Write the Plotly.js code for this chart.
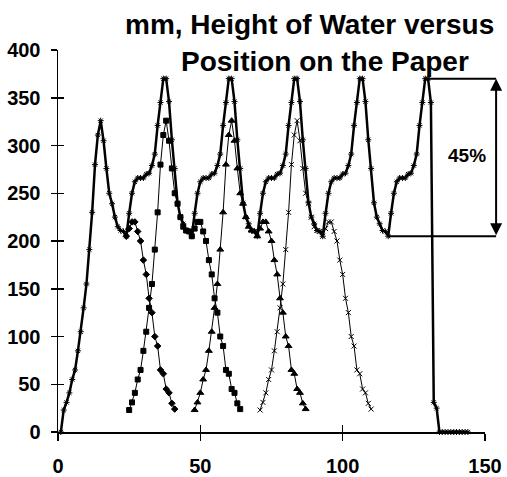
<!DOCTYPE html>
<html>
<head>
<meta charset="utf-8">
<script src="https://cdn.plot.ly/plotly-3.0.1.min.js"></script>
<style>html,body{margin:0;padding:0;background:#fff;}#chart{width:507px;height:477px;}</style>
</head>
<body>
<div id="chart"></div>
<script>
// ---- Data ----
// Combined (thick) curve: height of water (mm) at each position, starting at position 1
const combinedStart = 1;
const combinedY = [
  0, 23, 31, 41, 55, 65, 85, 105, 130, 155, 191, 230, 280, 311, 326, 305, 276, 250, 239, 225, 215, 211, 210, 205,
  229, 250, 262, 266, 266, 266, 270, 271, 279, 291, 321, 345, 370, 370, 346, 306, 276, 240, 225, 218, 211, 210, 205,
  229, 250, 262, 266, 266, 266, 270, 271, 279, 291, 321, 345, 370, 370, 346, 306, 276, 240, 225, 218, 211, 210, 205,
  229, 250, 262, 266, 266, 266, 270, 271, 279, 291, 321, 345, 370, 370, 346, 306, 276, 240, 225, 218, 211, 210, 205,
  229, 250, 262, 266, 266, 266, 270, 271, 279, 291, 321, 345, 370, 370, 346, 306, 276, 240, 225, 218, 211, 210, 205,
  229, 250, 262, 266, 266, 266, 270, 271, 279, 291, 321, 345, 370, 370, 345, 31, 25,
  0, 0, 0, 0, 0, 0, 0, 0, 0, 0, 0
];
// Single sheets (thin curves); the first sheet's rise lies under the thick curve
const sheet1Start = 24;
const sheet1Y = [205, 213, 220, 220, 210, 200, 180, 165, 140, 125, 100, 90, 65, 61, 45, 41, 30, 24];
const sheet2Start = 25;
const sheet2Y = [23, 31, 41, 55, 65, 85, 105, 130, 155, 191, 230, 280, 311, 326, 305, 276, 250, 239, 225, 215, 211, 210, 205,
  213, 220, 220, 210, 200, 180, 165, 140, 125, 100, 90, 65, 61, 45, 41, 30, 24];
const sheet3Start = 48;
const sheet3Y = [23, 31, 41, 55, 65, 85, 105, 130, 155, 191, 230, 280, 311, 326, 305, 276, 250, 239, 225, 215, 211, 210, 205,
  213, 220, 220, 210, 200, 180, 165, 140, 125, 100, 90, 65, 61, 45, 41, 30, 24];
const sheet4Start = 71;
const sheet4Y = [23, 31, 41, 55, 65, 85, 105, 130, 155, 191, 230, 280, 311, 326, 305, 276, 250, 239, 225, 215, 211, 210, 205,
  213, 220, 220, 210, 200, 180, 165, 140, 125, 100, 90, 65, 61, 45, 41, 30, 24];

const titleLine1 = 'mm, Height of Water versus';
const titleLine2 = 'Position on the Paper';
const dropLabel = '45%';
const xTicks = [0, 50, 100, 150];
const yTicks = [0, 50, 100, 150, 200, 250, 300, 350, 400];

// ---- Build ----
const positions = (start, ys) => ys.map((_, i) => start + i);
const FONT = '"Liberation Sans", Arial, Helvetica, sans-serif';
const thin = (start, ys, symbol, size) => ({
  type: 'scatter', mode: 'lines+markers', x: positions(start, ys), y: ys,
  line: {color: '#000', width: 1},
  marker: {symbol: symbol, size: size, color: '#000', line: {color: '#000', width: 1}},
  cliponaxis: false
});

const traces = [
  thin(sheet1Start, sheet1Y, 'diamond', 5),
  thin(sheet2Start, sheet2Y, 'square', 5),
  thin(sheet3Start, sheet3Y, 'triangle-up', 6),
  thin(sheet4Start, sheet4Y, 'x-thin-open', 5),
  {
    type: 'scatter', mode: 'lines+markers', x: positions(combinedStart, combinedY), y: combinedY,
    line: {color: '#000', width: 2.5},
    marker: {symbol: 'asterisk-open', size: 5, color: '#000', line: {color: '#000', width: 1}},
    cliponaxis: false
  },
  {type: 'scatter', x: [], y: [], xaxis: 'x2', yaxis: 'y2', hoverinfo: 'skip', showlegend: false}
];

// 45% marker geometry, from the data
const combX = positions(combinedStart, combinedY);
const peakY = Math.max(...combinedY);
let lastPeak = combinedY.lastIndexOf(peakY);
let firstOfLastPeak = lastPeak;
while (firstOfLastPeak > 0 && combinedY[firstOfLastPeak - 1] === peakY) firstOfLastPeak--;
const peakX = (combX[firstOfLastPeak] + combX[lastPeak]) / 2;
let troughIdx = lastPeak;
for (let i = lastPeak; i > lastPeak - 20; i--) if (combinedY[i] < combinedY[troughIdx]) troughIdx = i;
const troughY = combinedY[troughIdx], troughX = combX[troughIdx];

const xMax = xTicks[xTicks.length - 1], yMax = yTicks[yTicks.length - 1];
const plotH = 383;
const arrowX = 1.026;

const tickFont = {family: FONT, size: 20, color: '#000', weight: 700};
const layout = {
  width: 507, height: 477,
  margin: {l: 57.5, r: 21.5, t: 49.5, b: 44.5, pad: 0},
  paper_bgcolor: '#fff', plot_bgcolor: '#fff',
  showlegend: false,
  font: {family: FONT, color: '#000'},
  xaxis: {range: [0, xMax], tickmode: 'array', tickvals: xTicks, ticktext: xTicks.map(String),
    ticks: 'outside', ticklen: 7, tickwidth: 1.5, tickcolor: '#000',
    showline: true, linewidth: 1.5, linecolor: '#000', showgrid: false, zeroline: false,
    tickfont: tickFont, ticklabelstandoff: 8},
  yaxis: {range: [0, yMax], tickmode: 'array', tickvals: yTicks, ticktext: yTicks.map(String),
    ticks: 'outside', ticklen: 6, tickwidth: 1.5, tickcolor: '#000',
    showline: true, linewidth: 1.5, linecolor: '#000', showgrid: false, zeroline: false,
    tickfont: tickFont, ticklabelstandoff: 6},
  xaxis2: {overlaying: 'x', anchor: 'y2', range: [0, xMax], tickmode: 'array', tickvals: xTicks,
    ticks: 'inside', ticklen: 7, tickwidth: 1.5, tickcolor: '#000', showticklabels: false,
    showline: false, showgrid: false, zeroline: false},
  yaxis2: {overlaying: 'y', anchor: 'x2', range: [0, yMax], tickmode: 'array', tickvals: yTicks,
    ticks: 'inside', ticklen: 6, tickwidth: 1.5, tickcolor: '#000', showticklabels: false,
    showline: false, showgrid: false, zeroline: false},
  shapes: [
    {type: 'line', xref: 'paper', yref: 'y', x0: peakX / xMax, x1: arrowX, y0: peakY, y1: peakY,
      line: {color: '#000', width: 2}},
    {type: 'line', xref: 'paper', yref: 'y', x0: troughX / xMax, x1: arrowX, y0: troughY, y1: troughY,
      line: {color: '#000', width: 2}}
  ],
  annotations: [
    {text: titleLine1, xref: 'paper', yref: 'paper', x: 0.589, y: 1.067, xanchor: 'center', yanchor: 'middle',
      showarrow: false, font: {family: FONT, size: 28, color: '#000', weight: 700}},
    {text: titleLine2, xref: 'paper', yref: 'paper', x: 0.625, y: 0.969, xanchor: 'center', yanchor: 'middle',
      showarrow: false, font: {family: FONT, size: 28, color: '#000', weight: 700}},
    {text: dropLabel, xref: 'paper', yref: 'y', x: 0.958, y: (peakY + troughY) / 2 + 2, xanchor: 'center', yanchor: 'middle',
      showarrow: false, font: {family: FONT, size: 19, color: '#000', weight: 700}},
    {text: '', xref: 'paper', yref: 'y', x: arrowX, y: peakY, axref: 'pixel', ayref: 'pixel',
      ax: 0, ay: (peakY - troughY) * plotH / yMax, showarrow: true, arrowside: 'end+start',
      arrowhead: 2, startarrowhead: 2, arrowsize: 1.2, startarrowsize: 1.2, arrowwidth: 2, arrowcolor: '#000',
      standoff: 0, startstandoff: 0}
  ]
};

Plotly.newPlot('chart', traces, layout, {displayModeBar: false, staticPlot: true});
</script>
</body>
</html>
